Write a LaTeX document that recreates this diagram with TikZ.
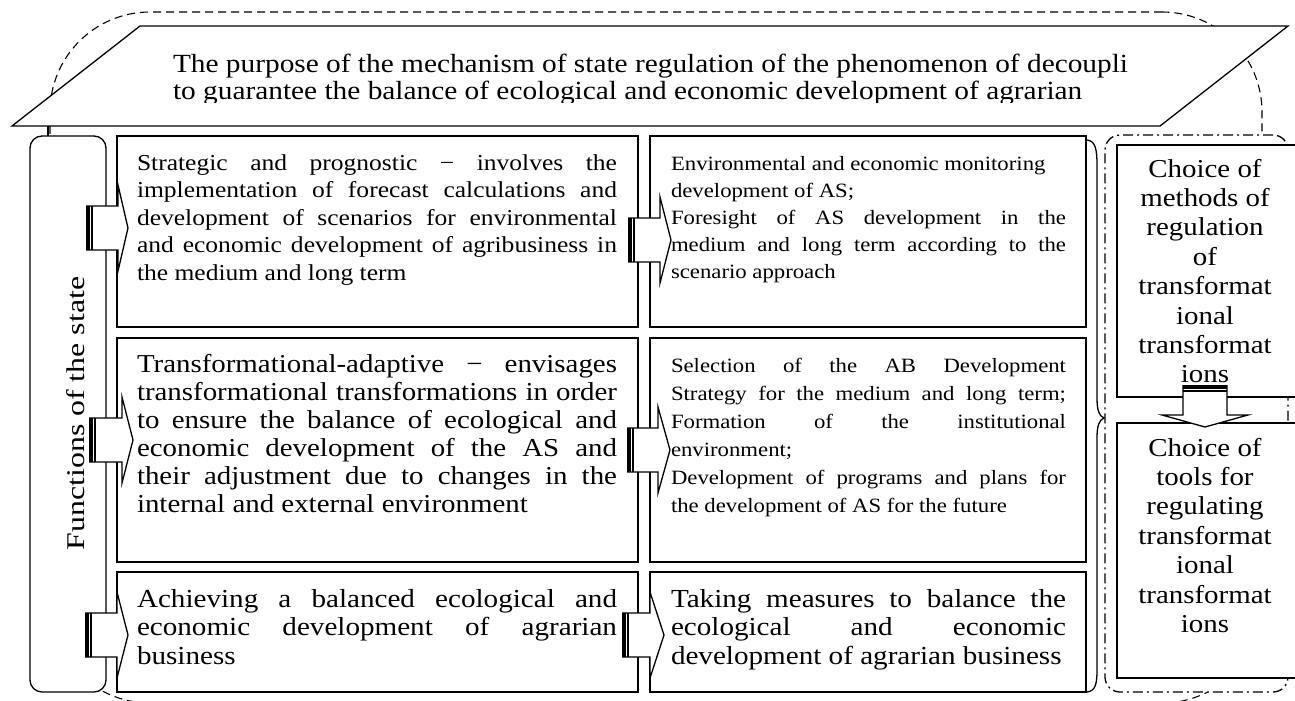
\documentclass[tikz,border=0pt]{standalone}
\usepackage{fontspec}
\setmainfont{Liberation Serif}[FakeStretch=1.12]
\newfontfamily\funcfont{Liberation Serif}[FakeStretch=1.25]
\newcommand\J[1]{\makebox[\linewidth][s]{#1}\\}
\newcommand\harrow[4]{%
  \draw[ln, fill=white] (#1,#4-22) -- (#2,#4-22) -- (#2,#4-43) -- (#3,#4) -- (#2,#4+43) -- (#2,#4+22) -- (#1,#4+22);
  \fill (#1,#4-22) rectangle (#1+4,#4+22);
  \draw[line width=1.4pt] (#1+6,#4-22) -- (#1+6,#4+22);
}
\begin{document}
\begin{tikzpicture}[x=1pt,y=-1pt,
  ln/.style={line width=1.3pt},
  box/.style={draw, line width=1.3pt, fill=white, anchor=north west},
  every node/.style={inner sep=0pt, outer sep=0pt}]
\useasboundingbox (0,0) rectangle (1295,701);
% outer dashed frame
\node[draw, line width=1.1pt, dash pattern=on 8pt off 5pt, rounded corners=100pt,
  minimum width=1212pt, minimum height=691pt, anchor=north west] (outer) at (50,12) {};
% banner
\draw[ln, fill=white] (140,26) -- (1288,26) -- (1160,126) -- (12,126) -- cycle;
\coordinate (bannerfoot) at (48,126);
\begin{scope}
  \clip (130,28) rectangle (1200,102);
  \node[anchor=base west] (bannertext) at (173,73) {\parbox[t]{1000pt}{\fontsize{26.2}{27}\selectfont
    The purpose of the mechanism of state regulation of the phenomenon of decoupli\\
    to guarantee the balance of ecological and economic development of agrarian}};
\end{scope}
% dash-dot group
\node[draw, fill=white, line width=1.3pt, rounded corners=15pt,
  dash pattern=on 10pt off 4pt on 2pt off 4pt,
  minimum width=183pt, minimum height=557pt, anchor=north west] (grp) at (1105,135) {};
% boxes
\node[box, minimum width=521pt, minimum height=191pt] (r1c1) at (117,136) {};
\node[box, minimum width=521pt, minimum height=224pt] (r2c1) at (117,338) {};
\node[box, minimum width=521pt, minimum height=120pt] (r3c1) at (117,572) {};
\node[box, minimum width=436pt, minimum height=191pt] (r1c2) at (650,136) {};
\node[box, minimum width=436pt, minimum height=224pt] (r2c2) at (650,338) {};
\node[box, minimum width=436pt, minimum height=120pt] (r3c2) at (650,572) {};
\node[box, minimum width=180pt, minimum height=252pt] (ch1) at (1117,145) {};
\node[box, minimum width=180pt, minimum height=255pt] (ch2) at (1117,423) {};
\node[box, rounded corners=12pt, minimum width=76pt, minimum height=556pt] (func) at (30,136) {};
\draw[ln] (bannerfoot) -- (bannerfoot |- func.north);
% brace
\draw[ln] (1087,140) .. controls (1095,141) and (1097,148) .. (1097,165) -- (1097,398)
  .. controls (1097,410) and (1099,416) .. (1104,418)
  .. controls (1099,420) and (1097,426) .. (1097,438) -- (1097,670)
  .. controls (1097,685) and (1095,691) .. (1087,692);
% texts
\node[rotate=90, anchor=base] (functext) at (84,413.5) {\funcfont\fontsize{25.5}{30}\selectfont Functions of the state};
\node[anchor=base west] (t11) at (137,170) {\parbox[t]{480pt}{\fontsize{22.8}{27.5}\selectfont
  \J{Strategic and prognostic − involves the}\J{implementation of forecast calculations and}%
  \J{development of scenarios for environmental}\J{and economic development of agribusiness in}%
  the medium and long term}};
\node[anchor=base west] (t12) at (671,170) {\parbox[t]{395pt}{\fontsize{20.3}{27.2}\selectfont
  Environmental and economic monitoring\\development of AS;\\
  \J{Foresight of AS development in the}\J{medium and long term according to the}%
  scenario approach}};
\node[anchor=base west] (t21) at (137,372) {\parbox[t]{480pt}{\fontsize{25.8}{28}\selectfont
  \J{Transformational-adaptive − envisages}\J{transformational transformations in order}%
  \J{to ensure the balance of ecological and}\J{economic development of the AS and}%
  \J{their adjustment due to changes in the}internal and external environment}};
\node[anchor=base west] (t22) at (671,372) {\parbox[t]{395pt}{\fontsize{20.3}{28}\selectfont
  \J{Selection of the AB Development}\J{Strategy for the medium and long term;}%
  \J{Formation of the institutional}environment;\\
  \J{Development of programs and plans for}the development of AS for the future}};
\node[anchor=base west] (t31) at (137,607) {\parbox[t]{480pt}{\fontsize{26}{28.5}\selectfont
  \J{Achieving a balanced ecological and}\J{economic development of agrarian}business}};
\node[anchor=base west] (t32) at (671,607) {\parbox[t]{395pt}{\fontsize{26}{28.5}\selectfont
  \J{Taking measures to balance the}\J{ecological and economic}development of agrarian business}};
\node[anchor=base] (tch1) at (1205,177) {\parbox[t]{175pt}{\centering\fontsize{25.8}{29.4}\selectfont
  Choice of\\methods of\\regulation\\of\\transformat\\ional\\transformat\\ions}};
\node[anchor=base] (tch2) at (1205,456) {\parbox[t]{175pt}{\centering\fontsize{25.8}{29.4}\selectfont
  Choice of\\tools for\\regulating\\transformat\\ional\\transformat\\ions}};
% block arrows
\harrow{86}{118}{128}{228}
\harrow{89}{122}{133}{440}
\harrow{85}{117}{128}{635}
\harrow{628}{660}{671}{240}
\harrow{627}{658}{670}{450}
\harrow{622}{650}{664}{635}
\draw[ln, fill=white] (1183,385) -- (1183,415) -- (1162,415) -- (1205,427) -- (1248,415) -- (1227,415) -- (1227,385);
\fill (1183,385) rectangle (1227,389);
\draw[line width=1.4pt] (1183,391) -- (1227,391);
\end{tikzpicture}
\end{document}
